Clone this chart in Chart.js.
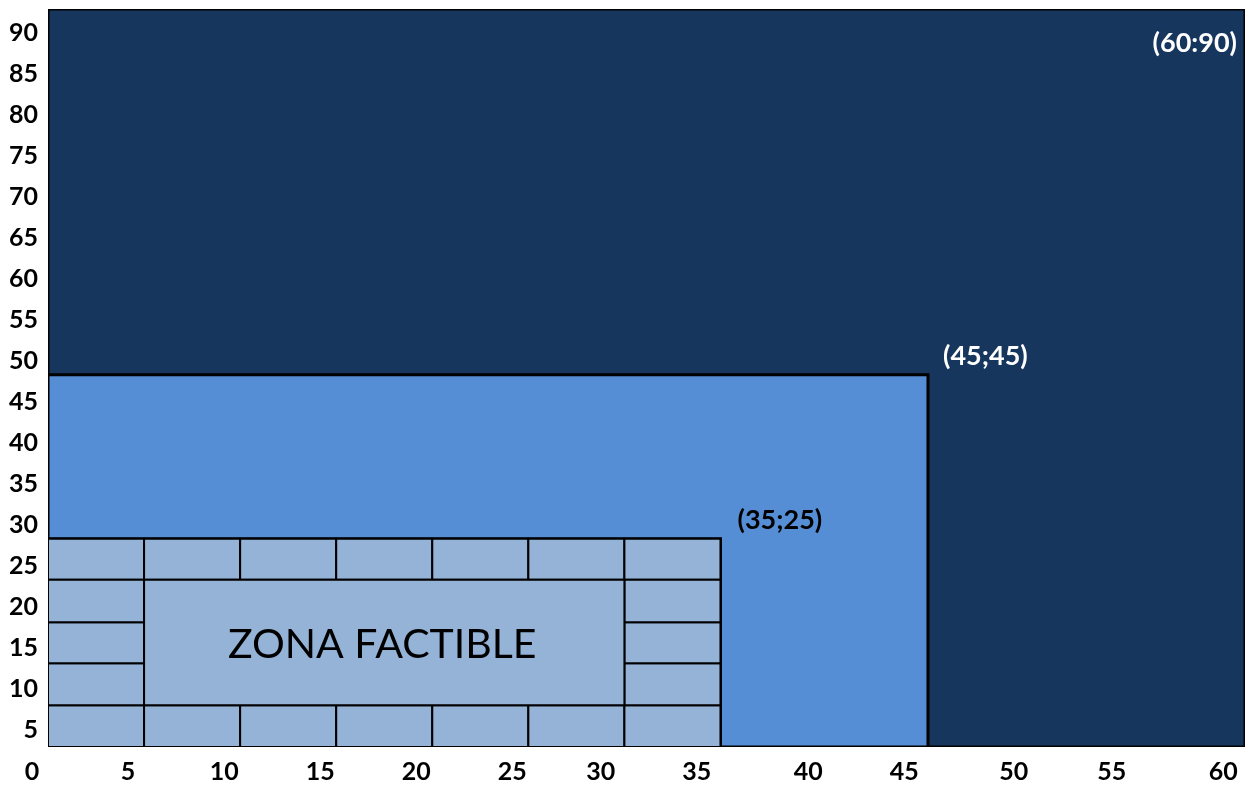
<!DOCTYPE html>
<html>
<head>
<meta charset="utf-8">
<title>Zona factible</title>
<script src="https://cdn.jsdelivr.net/npm/chart.js"></script>
<style>
  html, body { margin: 0; padding: 0; background: #fff; }
  #wrap { width: 1258px; height: 785px; }
</style>
</head>
<body>
<div id="wrap"><canvas id="zona-chart"></canvas></div>
<script>
'use strict';

// axis range and tick labels
const xMax = 62.3;
const yMax = 90;
const xTickLabels = ['0', '5', '10', '15', '20', '25', '30', '35', '40', '45', '50', '55', '60'];
const xTickValues = [0, 5, 10, 15, 20, 25, 29.6, 34.6, 40.4, 45.4, 51.1, 56.2, 62];
const yTickValues = [5, 10, 15, 20, 25, 30, 35, 40, 45, 50, 55, 60, 65, 70, 75, 80, 85, 90];

// nested zones, all starting at the origin
const zoneRight = [62.3, 45.8, 35];
const zoneTop = [90, 45.4, 25.4];
const zoneLabels = ['(60:90)', '(45;45)', '(35;25)'];

// brick grid filling the smallest zone
const brickCols = [0, 5, 10, 15, 20, 25, 30, 35];
const brickRows = [0, 5.1, 10.2, 15.2, 20.4, 25.4];
const feasibleCell = [1, 6, 1, 4];          // [col from, col to, row from, row to]
const feasibleLabel = 'ZONA FACTIBLE';

// cells as [col from, col to, row from, row to]
const brickCells = [];
[0, 4].forEach(function (r) {
    for (let c = 0; c < 7; c++) brickCells.push([c, c + 1, r, r + 1]);
});
[1, 2, 3].forEach(function (r) {
    brickCells.push([0, 1, r, r + 1], [6, 7, r, r + 1]);
});

const zoneColors = ['#17365D', '#558ED5', '#95B3D7'];
const brickColor = '#95B3D7';
// where each zone label sits relative to the zone's top-right corner (px)
const zoneLabelStyle = [
    { dx: -8, dy: 34, align: 'right', color: '#fff' },
    { dx: 15, dy: -18, align: 'left', color: '#fff' },
    { dx: 17, dy: -18, align: 'left', color: '#000' }
];

function rectPoints(x0, x1, y0, y1) {
    return [{ x: x0, y: y0 }, { x: x0, y: y1 }, { x: x1, y: y1 }, { x: x1, y: y0 }, { x: x0, y: y0 }];
}

function rectDataset(points, color, width) {
    return {
        data: points,
        showLine: true,
        fill: 'shape',
        backgroundColor: color,
        borderColor: '#000',
        borderWidth: width,
        borderJoinStyle: 'miter',
        borderCapStyle: 'square',
        pointRadius: 0,
        tension: 0
    };
}

const datasets = [];
zoneRight.forEach(function (r, i) {
    datasets.push(rectDataset(rectPoints(0, r, 0, zoneTop[i]), zoneColors[i], 3));
});
brickCells.forEach(function (c) {
    datasets.push(rectDataset(rectPoints(brickCols[c[0]], brickCols[c[1]], brickRows[c[2]], brickRows[c[3]]), brickColor, 2));
});
const fc = feasibleCell;
datasets.push(rectDataset(rectPoints(brickCols[fc[0]], brickCols[fc[1]], brickRows[fc[2]], brickRows[fc[3]]), brickColor, 2));
// first pushed is drawn first (at the back)
datasets.forEach(function (d, i) { d.order = datasets.length - i; });

const labelPlugin = {
    id: 'zoneLabels',
    afterDatasetsDraw: function (chart) {
        const ctx = chart.ctx;
        const xs = chart.scales.x, ys = chart.scales.y;
        ctx.save();
        ctx.textBaseline = 'middle';
        ctx.font = "bold 27px Lato, 'Open Sans', sans-serif";
        zoneLabels.forEach(function (t, i) {
            const st = zoneLabelStyle[i];
            ctx.fillStyle = st.color;
            ctx.textAlign = st.align;
            ctx.fillText(t, xs.getPixelForValue(zoneRight[i]) + st.dx, ys.getPixelForValue(zoneTop[i]) + st.dy);
        });
        ctx.font = "41px Lato, 'Open Sans', sans-serif";
        ctx.fillStyle = '#000';
        ctx.textAlign = 'center';
        const cx = (xs.getPixelForValue(brickCols[fc[0]]) + xs.getPixelForValue(brickCols[fc[1]])) / 2;
        const cy = (ys.getPixelForValue(brickRows[fc[2]]) + ys.getPixelForValue(brickRows[fc[3]])) / 2;
        ctx.fillText(feasibleLabel, cx - 2, cy + 2);
        ctx.restore();
    }
};

const tickFont = { family: "Lato, 'Open Sans', sans-serif", size: 25, weight: 'bold' };

new Chart(document.getElementById('zona-chart'), {
    type: 'scatter',
    data: { datasets: datasets },
    plugins: [labelPlugin],
    options: {
        responsive: true,
        maintainAspectRatio: false,
        animation: false,
        events: [],
        layout: { padding: { top: 9, right: 13, left: 0, bottom: 0 } },
        plugins: {
            legend: { display: false },
            tooltip: { enabled: false }
        },
        scales: {
            x: {
                type: 'linear',
                min: 0,
                max: xMax,
                grid: { display: false, drawTicks: false },
                border: { display: false },
                afterBuildTicks: function (s) { s.ticks = xTickValues.map(function (v) { return { value: v }; }); },
                afterFit: function (s) { s.height = 38; s.paddingLeft = 0; s.paddingRight = 0; },
                ticks: {
                    autoSkip: false,
                    maxRotation: 0,
                    labelOffset: -16,
                    padding: 10,
                    color: '#000',
                    font: tickFont,
                    callback: function (v, i) { return xTickLabels[i]; }
                }
            },
            y: {
                type: 'linear',
                min: 0,
                max: yMax,
                grid: { display: false, drawTicks: false },
                border: { display: false },
                afterBuildTicks: function (s) { s.ticks = yTickValues.map(function (v) { return { value: v }; }); },
                afterFit: function (s) { s.width = 48; s.paddingTop = 0; s.paddingBottom = 0; },
                ticks: {
                    autoSkip: false,
                    labelOffset: 24,
                    padding: 10,
                    color: '#000',
                    font: tickFont,
                    callback: function (v) { return String(v); }
                }
            }
        }
    }
});
</script>
</body>
</html>
